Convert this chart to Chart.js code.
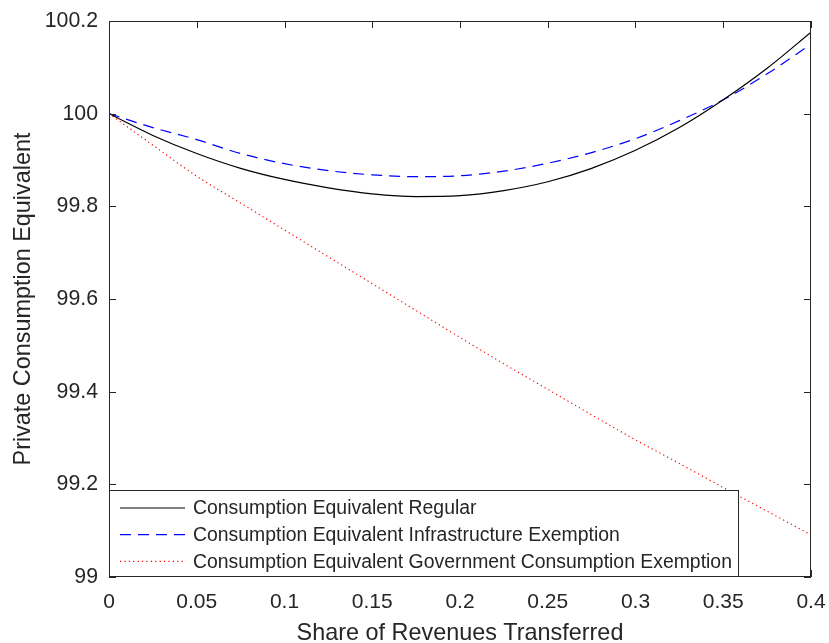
<!DOCTYPE html>
<html>
<head>
<meta charset="utf-8">
<script src="https://cdn.jsdelivr.net/npm/chart.js@4"></script>
<style>
  body { margin: 0; background: #fff; }
  canvas { display: block; }
</style>
</head>
<body>
<canvas id="myChart" width="829" height="643" style="width:829px;height:643px"></canvas>
<script>
// share of revenues transferred
const shares = [0, 0.025, 0.05, 0.075, 0.1, 0.125, 0.15, 0.175, 0.2, 0.225, 0.25, 0.275, 0.3, 0.325, 0.35, 0.375, 0.4];

const regular = [100, 99.953, 99.914, 99.882, 99.858, 99.840, 99.827, 99.821, 99.823, 99.834, 99.853, 99.882, 99.921, 99.970, 100.030, 100.098, 100.176];
const infrastructure = [100, 99.970, 99.944, 99.914, 99.892, 99.877, 99.868, 99.864, 99.866, 99.876, 99.893, 99.916, 99.946, 99.985, 100.030, 100.086, 100.150];
const government = [100, 99.932, 99.865, 99.807, 99.749, 99.691, 99.633, 99.575, 99.517, 99.460, 99.405, 99.350, 99.296, 99.245, 99.193, 99.142, 99.091];

const seriesNames = [
    'Consumption Equivalent Regular',
    'Consumption Equivalent Infrastructure Exemption',
    'Consumption Equivalent Government Consumption Exemption'
];

const xTicks = [0, 0.05, 0.1, 0.15, 0.2, 0.25, 0.3, 0.35, 0.4];
const yTicks = [99, 99.2, 99.4, 99.6, 99.8, 100, 100.2];

const axisColor = '#262626';
const fontFamily = '"Liberation Sans", Arial, Helvetica, sans-serif';

function toPoints(values) {
    return shares.map((s, i) => ({ x: s, y: values[i] }));
}

const styles = [
    { color: '#000000', width: 1.2, dash: [] },
    { color: '#0000ff', width: 1.2, dash: [11, 7] },
    { color: '#ff0000', width: 1.2, dash: [1.2, 3.2] }
];

// box round the plot with inward ticks, then the legend in the lower-left corner
const boxPlugin = {
    id: 'box',
    afterDatasetsDraw(chart) {
        const ctx = chart.ctx;
        const a = chart.chartArea;
        const xs = chart.scales.x, ys = chart.scales.y;
        ctx.save();
        ctx.strokeStyle = axisColor;
        ctx.lineWidth = 1;
        ctx.setLineDash([]);
        ctx.strokeRect(a.left + 0.5, a.top + 0.5, a.right - a.left - 1, a.bottom - a.top - 1);
        ctx.beginPath();
        xTicks.forEach(v => {
            const px = Math.round(xs.getPixelForValue(v)) + 0.5;
            ctx.moveTo(px, a.bottom);
            ctx.lineTo(px, a.bottom - 7);
            ctx.moveTo(px, a.top);
            ctx.lineTo(px, a.top + 7);
        });
        yTicks.forEach(v => {
            const py = Math.round(ys.getPixelForValue(v)) + 0.5;
            ctx.moveTo(a.left, py);
            ctx.lineTo(a.left + 7, py);
            ctx.moveTo(a.right, py);
            ctx.lineTo(a.right - 7, py);
        });
        ctx.stroke();

        // legend
        const lx = a.left, ly = 490, lw = 630, lh = a.bottom - 490;
        ctx.fillStyle = '#ffffff';
        ctx.fillRect(lx, ly, lw, lh);
        ctx.strokeStyle = axisColor;
        ctx.strokeRect(lx + 0.5, ly + 0.5, lw - 1, lh - 1);
        ctx.font = '19.4px ' + fontFamily;
        ctx.textBaseline = 'middle';
        ctx.textAlign = 'left';
        seriesNames.forEach((name, i) => {
            const rowY = 508 + i * 26.7;
            const st = styles[i];
            ctx.beginPath();
            ctx.strokeStyle = st.color;
            ctx.lineWidth = st.width;
            ctx.setLineDash(st.dash);
            ctx.moveTo(120, rowY);
            ctx.lineTo(185, rowY);
            ctx.stroke();
            ctx.setLineDash([]);
            ctx.fillStyle = axisColor;
            ctx.fillText(name, 193, rowY + 1);
        });
        ctx.restore();
    }
};

const ctx = document.getElementById('myChart').getContext('2d');
window.myChart = new Chart(ctx, {
    type: 'line',
    data: {
        datasets: [regular, infrastructure, government].map((values, i) => ({
            label: seriesNames[i],
            data: toPoints(values),
            borderColor: styles[i].color,
            borderWidth: styles[i].width,
            borderDash: styles[i].dash,
            pointRadius: 0,
            fill: false,
            cubicInterpolationMode: 'monotone'
        }))
    },
    options: {
        responsive: false,
        animation: false,
        devicePixelRatio: 1,
        layout: { padding: { left: 0, right: 18, top: 21, bottom: 0 } },
        plugins: {
            legend: { display: false },
            tooltip: { enabled: false }
        },
        scales: {
            x: {
                type: 'linear',
                min: 0,
                max: 0.4,
                afterBuildTicks: scale => { scale.ticks = xTicks.map(v => ({ value: v })); },
                afterFit: scale => {
                    scale.height = 66;
                    scale.paddingLeft = 0;
                    scale.paddingRight = 0;
                },
                grid: { display: false, drawTicks: false },
                border: { display: false },
                ticks: {
                    padding: 13,
                    color: axisColor,
                    font: { size: 21, family: fontFamily },
                    maxRotation: 0,
                    callback: v => String(+v.toFixed(2))
                },
                title: {
                    display: true,
                    text: 'Share of Revenues Transferred',
                    color: axisColor,
                    font: { size: 23.4, family: fontFamily, lineHeight: 1 },
                    padding: { top: 0, bottom: -2 }
                }
            },
            y: {
                min: 99,
                max: 100.2,
                afterBuildTicks: scale => { scale.ticks = yTicks.map(v => ({ value: v })); },
                afterFit: scale => {
                    scale.width = 109;
                    scale.paddingTop = 0;
                    scale.paddingBottom = 0;
                },
                grid: { display: false, drawTicks: false },
                border: { display: false },
                ticks: {
                    padding: 11,
                    color: axisColor,
                    font: { size: 21.3, family: fontFamily },
                    callback: v => String(+v.toFixed(1))
                },
                title: {
                    display: true,
                    text: 'Private Consumption Equivalent',
                    color: axisColor,
                    font: { size: 23.4, family: fontFamily, lineHeight: 1 },
                    padding: { top: 12, bottom: 0 }
                }
            }
        }
    },
    plugins: [boxPlugin]
});
</script>
</body>
</html>
